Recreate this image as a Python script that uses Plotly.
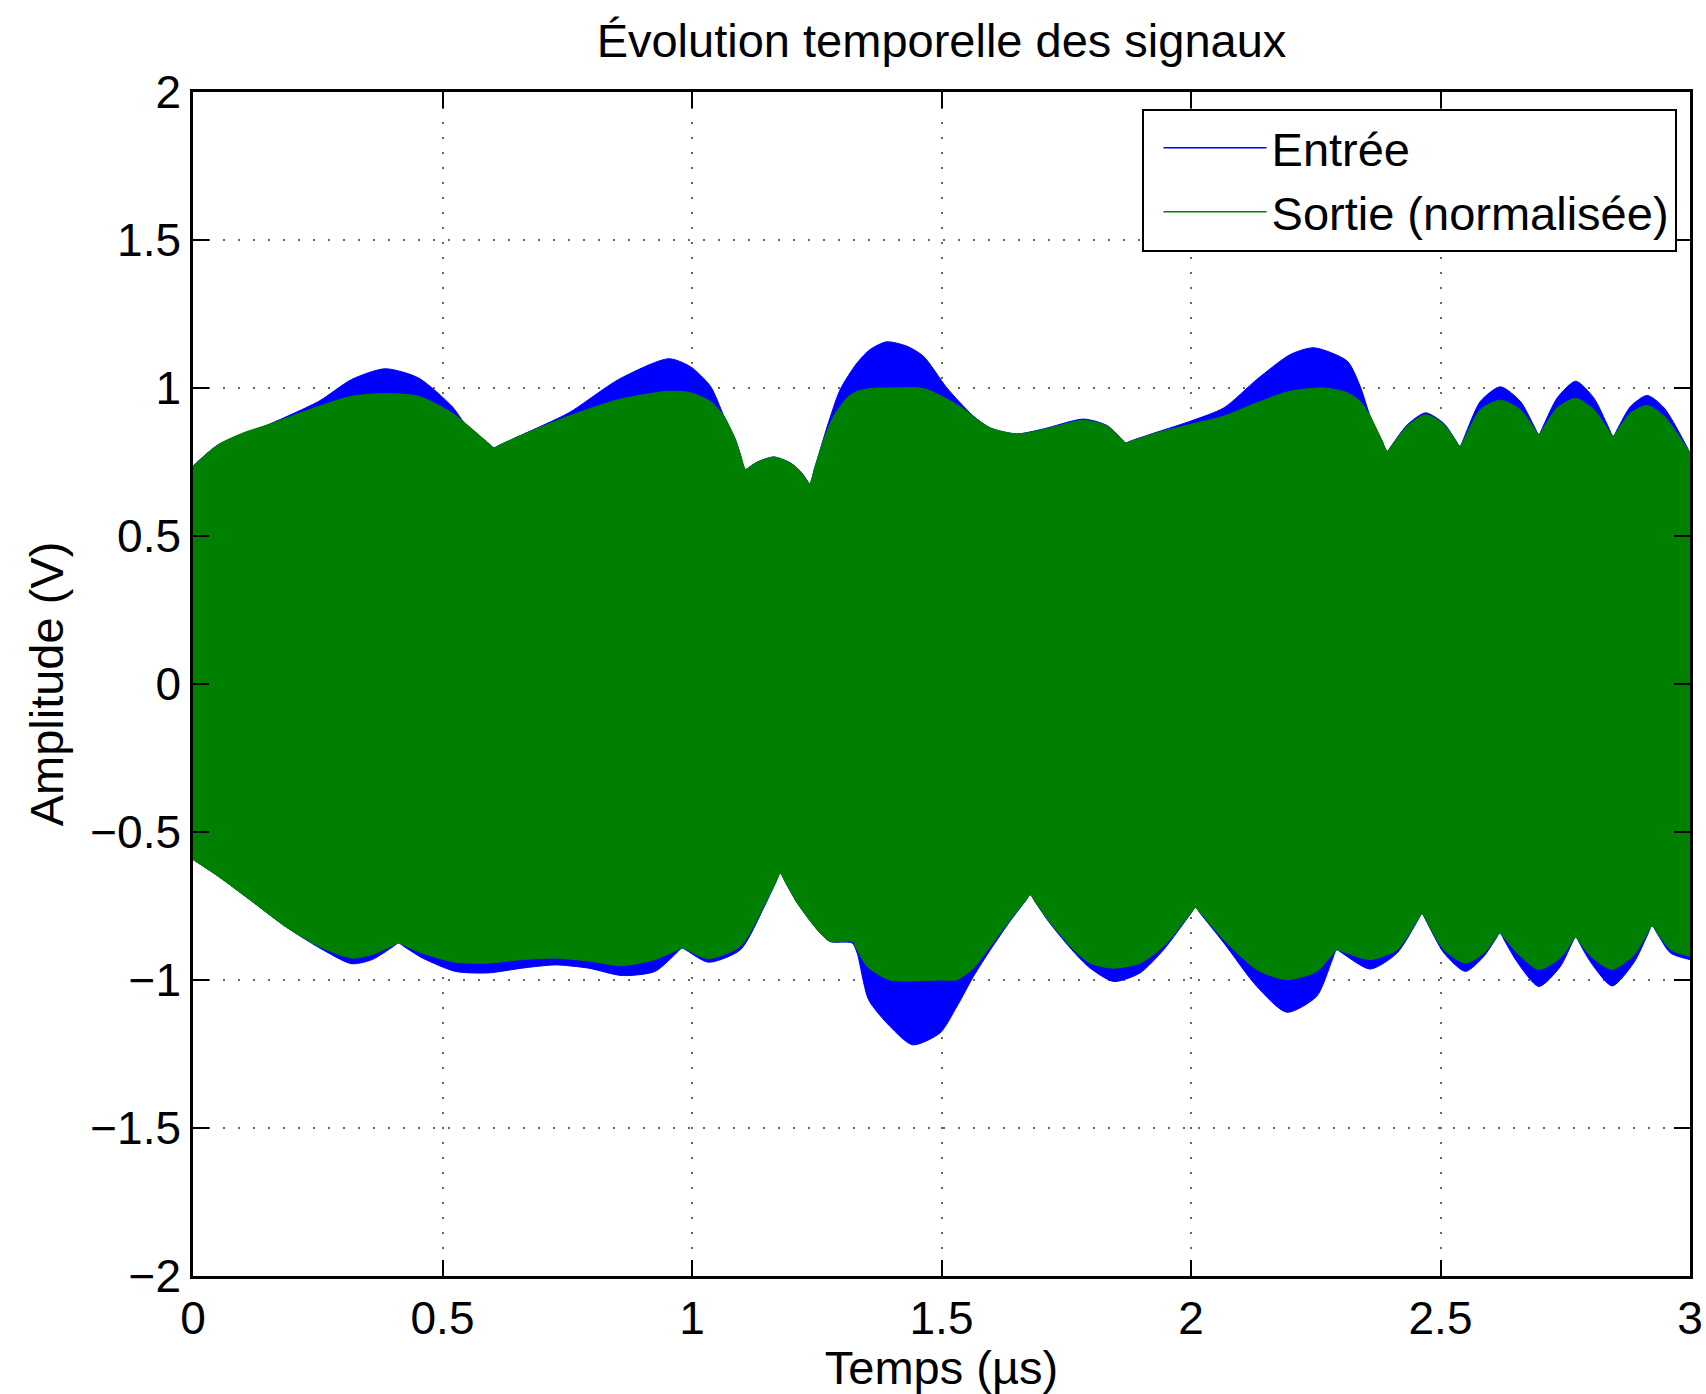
import plotly.graph_objects as go

# ---- data (envelopes of the dense RF signals) ----
# Entrée (input) upper / lower envelopes
t_in_hi = [0.000, 0.051, 0.152, 0.252, 0.318, 0.385, 0.452, 0.519, 0.545, 0.593, 0.603, 0.613, 0.653,
           0.753, 0.853, 0.953, 0.997, 1.037, 1.064, 1.087, 1.097, 1.107, 1.117, 1.131, 1.164, 1.197,
           1.217, 1.226, 1.236, 1.246, 1.251, 1.271, 1.297, 1.331, 1.357, 1.390, 1.431, 1.464, 1.511,
           1.564, 1.598, 1.651, 1.705, 1.785, 1.832, 1.859, 1.869, 1.879, 1.932, 1.999, 2.066, 2.132,
           2.199, 2.246, 2.313, 2.339, 2.359, 2.383, 2.393, 2.403, 2.433, 2.470, 2.507, 2.529, 2.539,
           2.549, 2.580, 2.620, 2.660, 2.687, 2.697, 2.707, 2.734, 2.771, 2.807, 2.836, 2.846, 2.856,
           2.881, 2.914, 2.948, 3.000]
in_hi = [0.736, 0.809, 0.877, 0.955, 1.029, 1.065, 1.034, 0.938, 0.880, 0.812, 0.798, 0.806, 0.837,
         0.916, 1.029, 1.099, 1.072, 1.006, 0.905, 0.826, 0.775, 0.725, 0.735, 0.750, 0.767, 0.747,
         0.719, 0.699, 0.677, 0.731, 0.758, 0.870, 0.995, 1.085, 1.130, 1.156, 1.141, 1.107, 1.000,
         0.905, 0.865, 0.845, 0.862, 0.895, 0.873, 0.831, 0.815, 0.821, 0.851, 0.888, 0.933, 1.029,
         1.113, 1.136, 1.091, 1.006, 0.905, 0.821, 0.786, 0.808, 0.875, 0.916, 0.880, 0.827, 0.803,
         0.840, 0.955, 1.004, 0.955, 0.873, 0.843, 0.876, 0.967, 1.023, 0.967, 0.870, 0.837, 0.866,
         0.938, 0.975, 0.933, 0.781]

t_in_lo = [0.000, 0.051, 0.118, 0.185, 0.252, 0.318, 0.359, 0.402, 0.412, 0.422, 0.459, 0.526, 0.592,
           0.659, 0.726, 0.793, 0.860, 0.926, 0.970, 0.980, 0.990, 1.033, 1.097, 1.144, 1.167, 1.177,
           1.187, 1.211, 1.251, 1.277, 1.321, 1.331, 1.354, 1.397, 1.442, 1.497, 1.531, 1.564, 1.598,
           1.638, 1.668, 1.678, 1.688, 1.718, 1.765, 1.798, 1.845, 1.898, 1.945, 1.999, 2.009, 2.019,
           2.066, 2.132, 2.192, 2.252, 2.282, 2.292, 2.302, 2.359, 2.413, 2.453, 2.463, 2.473, 2.507,
           2.550, 2.587, 2.609, 2.619, 2.629, 2.654, 2.697, 2.740, 2.761, 2.771, 2.781, 2.801, 2.844,
           2.888, 2.914, 2.924, 2.934, 2.961, 3.000]
in_lo = [-0.593, -0.650, -0.734, -0.819, -0.890, -0.945, -0.931, -0.886, -0.875, -0.886, -0.925, -0.971,
         -0.976, -0.960, -0.949, -0.960, -0.985, -0.971, -0.907, -0.892, -0.901, -0.940, -0.898, -0.755,
         -0.673, -0.639, -0.669, -0.740, -0.830, -0.870, -0.875, -0.909, -1.067, -1.157, -1.219, -1.179,
         -1.089, -0.988, -0.898, -0.800, -0.734, -0.712, -0.737, -0.810, -0.905, -0.960, -1.005, -0.976,
         -0.898, -0.777, -0.755, -0.776, -0.875, -1.022, -1.109, -1.055, -0.937, -0.898, -0.908, -0.963,
         -0.909, -0.803, -0.776, -0.806, -0.909, -0.971, -0.920, -0.866, -0.841, -0.869, -0.940, -1.022,
         -0.955, -0.885, -0.855, -0.883, -0.940, -1.020, -0.940, -0.851, -0.817, -0.842, -0.909, -0.931]

# Sortie (normalised output) upper / lower envelopes
t_out_hi = [0.000, 0.051, 0.100, 0.152, 0.252, 0.318, 0.385, 0.452, 0.519, 0.593, 0.603, 0.613, 0.653,
            0.753, 0.853, 0.953, 0.997, 1.037, 1.064, 1.087, 1.097, 1.107, 1.117, 1.131, 1.164, 1.197,
            1.217, 1.226, 1.236, 1.246, 1.251, 1.264, 1.284, 1.311, 1.331, 1.364, 1.397, 1.464, 1.531,
            1.598, 1.651, 1.705, 1.785, 1.832, 1.859, 1.869, 1.879, 1.932, 1.999, 2.066, 2.132, 2.199,
            2.266, 2.313, 2.339, 2.359, 2.383, 2.393, 2.403, 2.433, 2.470, 2.507, 2.529, 2.539, 2.549,
            2.580, 2.620, 2.660, 2.687, 2.697, 2.707, 2.734, 2.771, 2.807, 2.836, 2.846, 2.856, 2.881,
            2.914, 2.948, 3.000]
out_hi = [0.736, 0.809, 0.848, 0.877, 0.938, 0.972, 0.981, 0.972, 0.916, 0.812, 0.798, 0.806, 0.837,
          0.905, 0.961, 0.989, 0.984, 0.955, 0.905, 0.826, 0.775, 0.725, 0.735, 0.750, 0.767, 0.747,
          0.719, 0.699, 0.677, 0.731, 0.758, 0.826, 0.905, 0.967, 0.989, 0.999, 1.000, 0.998, 0.944,
          0.865, 0.845, 0.860, 0.891, 0.871, 0.830, 0.815, 0.820, 0.849, 0.877, 0.905, 0.950, 0.989,
          1.000, 0.984, 0.955, 0.905, 0.821, 0.786, 0.807, 0.871, 0.910, 0.877, 0.826, 0.803, 0.833,
          0.927, 0.959, 0.927, 0.866, 0.843, 0.867, 0.933, 0.965, 0.927, 0.860, 0.837, 0.860, 0.916,
          0.941, 0.905, 0.781]

t_out_lo = [0.000, 0.051, 0.118, 0.185, 0.252, 0.318, 0.359, 0.402, 0.412, 0.422, 0.459, 0.526, 0.592,
            0.659, 0.726, 0.793, 0.860, 0.926, 0.970, 0.980, 0.990, 1.033, 1.097, 1.144, 1.167, 1.177,
            1.187, 1.211, 1.251, 1.277, 1.321, 1.331, 1.351, 1.397, 1.497, 1.531, 1.564, 1.598, 1.638,
            1.668, 1.678, 1.688, 1.718, 1.765, 1.798, 1.845, 1.898, 1.945, 1.999, 2.009, 2.019, 2.066,
            2.132, 2.192, 2.252, 2.282, 2.292, 2.302, 2.359, 2.413, 2.453, 2.463, 2.473, 2.507, 2.550,
            2.587, 2.609, 2.619, 2.629, 2.654, 2.697, 2.740, 2.761, 2.771, 2.781, 2.801, 2.844, 2.888,
            2.914, 2.924, 2.934, 2.961, 3.000]
out_lo = [-0.593, -0.650, -0.734, -0.819, -0.886, -0.926, -0.914, -0.882, -0.875, -0.882, -0.909, -0.940,
          -0.943, -0.931, -0.926, -0.936, -0.952, -0.931, -0.899, -0.892, -0.899, -0.928, -0.886, -0.751,
          -0.673, -0.639, -0.669, -0.740, -0.830, -0.870, -0.870, -0.898, -0.954, -1.000, -1.000, -0.999,
          -0.960, -0.886, -0.796, -0.733, -0.712, -0.736, -0.807, -0.898, -0.943, -0.960, -0.943, -0.886,
          -0.775, -0.755, -0.774, -0.864, -0.965, -0.999, -0.971, -0.916, -0.898, -0.903, -0.931, -0.898,
          -0.800, -0.776, -0.804, -0.898, -0.943, -0.909, -0.862, -0.841, -0.860, -0.909, -0.965, -0.926,
          -0.878, -0.855, -0.877, -0.920, -0.965, -0.915, -0.844, -0.817, -0.839, -0.898, -0.920]

x_ticks = [0, 0.5, 1, 1.5, 2, 2.5, 3]
x_labels = ['0', '0.5', '1', '1.5', '2', '2.5', '3']
y_ticks = [-2, -1.5, -1, -0.5, 0, 0.5, 1, 1.5, 2]
y_labels = ['\u22122', '\u22121.5', '\u22121', '\u22120.5', '0', '0.5', '1', '1.5', '2']

series_names = ['Entrée', 'Sortie (normalisée)']
colors = ['#0000FF', '#008000']

FONT = 'Liberation Sans, Arial, Helvetica, sans-serif'
FS_TICK = 46
FS_TEXT = 47

fig = go.Figure()
envelopes = [(t_in_lo, in_lo, t_in_hi, in_hi), (t_out_lo, out_lo, t_out_hi, out_hi)]
for (tl, vl, th, vh), c in zip(envelopes, colors):
    fig.add_trace(go.Scatter(x=tl, y=vl, mode='lines',
                             line=dict(color=c, width=1, shape='spline', smoothing=0.7),
                             showlegend=False, hoverinfo='skip'))
    fig.add_trace(go.Scatter(x=th, y=vh, mode='lines', fill='tonexty', fillcolor=c,
                             line=dict(color=c, width=1, shape='spline', smoothing=0.7),
                             showlegend=False, hoverinfo='skip'))
for name, c in zip(series_names, colors):
    fig.add_trace(go.Scatter(x=[None], y=[None], mode='lines', name=name,
                             line=dict(color=c, width=1.5)))

axis_common = dict(
    ticks='inside', ticklen=16, tickwidth=2, tickcolor='black',
    showline=True, linecolor='black', linewidth=2.5, mirror='allticks',
    showgrid=True, gridcolor='rgba(0,0,0,0.6)', gridwidth=1.5, griddash='2px,13px',
    zeroline=False, tickfont=dict(family=FONT, size=FS_TICK, color='black'),
)

fig.update_layout(
    width=1706, height=1394,
    margin=dict(l=193, r=16, t=92, b=118, autoexpand=False),
    paper_bgcolor='white', plot_bgcolor='white',
    font=dict(family=FONT, size=FS_TEXT, color='black'),
    title=dict(text='Évolution temporelle des signaux', x=0.5, xref='paper', xanchor='center',
               y=1 - 41 / 1394, yref='container', yanchor='middle',
               font=dict(family=FONT, size=FS_TEXT, color='black')),
    xaxis=dict(range=[0, 3], tickvals=x_ticks, ticktext=x_labels,
               title=dict(text='Temps (µs)', standoff=0, font=dict(family=FONT, size=FS_TEXT)),
               **axis_common),
    yaxis=dict(range=[-2, 2], tickvals=y_ticks, ticktext=y_labels,
               title=dict(text='Amplitude (V)', standoff=12, font=dict(family=FONT, size=FS_TEXT)),
               **axis_common),
    legend=dict(x=0.991, xanchor='right', y=0.986, yanchor='top', traceorder='normal',
                bgcolor='white', bordercolor='black', borderwidth=2,
                font=dict(family=FONT, size=FS_TEXT, color='black'), itemwidth=103,
                indentation=15, tracegroupgap=0),
    showlegend=True,
)

fig.write_html('out.html')
